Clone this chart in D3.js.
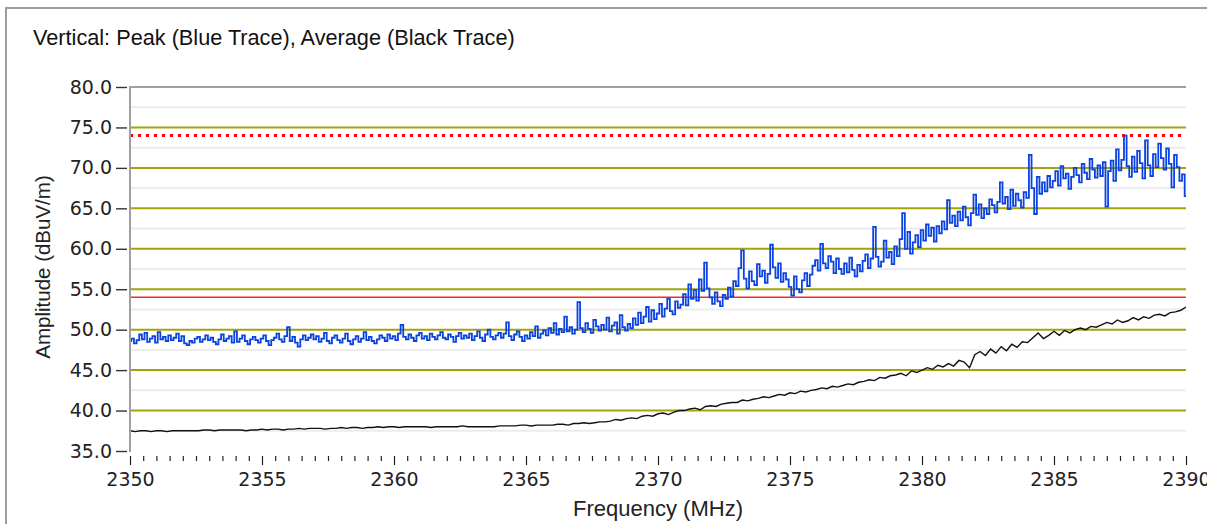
<!DOCTYPE html>
<html><head><meta charset="utf-8">
<script src="https://cdn.jsdelivr.net/npm/d3@7"></script>
<style>body{margin:0;background:#fff;} svg{display:block;}</style>
</head><body><svg id="c" width="1207" height="524"></svg>
<script>
// ---- data ----
const titleText = "Vertical: Peak (Blue Trace), Average (Black Trace)";
const xTitle = "Frequency (MHz)";
const yTitle = "Amplitude (dBuV/m)";
const xDomain = [2350, 2390];
const yDomain = [35, 80];
const xTicks = [2350, 2355, 2360, 2365, 2370, 2375, 2380, 2385, 2390];
const yTicks = [35, 40, 45, 50, 55, 60, 65, 70, 75, 80];
const peakLimit = 74;
const avgLimit = 54;
const peakStep = 0.1;   // MHz between peak samples
const avgStep = 0.2;    // MHz between average samples
const peakValues = [
48.6,48.9,48.3,48.7,49.4,48.8,49.6,48.5,48.9,49.2,
48.4,49.7,48.8,49.1,48.6,49.3,48.7,49.0,49.5,48.6,
49.2,48.3,48.1,48.6,48.4,48.9,49.1,48.5,48.8,49.3,
48.7,49.0,48.5,48.2,48.8,49.4,48.6,48.9,49.2,48.4,
49.8,48.5,48.9,49.3,48.6,48.2,48.8,49.1,48.7,48.4,
48.9,49.3,48.6,48.1,48.7,49.0,49.5,48.8,48.5,49.2,
50.3,48.6,49.1,48.4,47.9,48.8,49.3,48.7,49.0,49.4,
48.8,49.2,48.5,48.9,49.6,48.6,48.3,49.0,49.3,48.7,
48.4,48.9,49.5,48.6,48.2,48.8,49.2,48.5,48.9,49.7,
48.7,49.1,48.6,48.3,48.8,49.3,49.0,48.6,49.4,48.9,
49.2,48.7,49.5,50.6,49.1,48.8,49.4,49.0,48.6,49.3,
49.6,48.9,49.2,48.7,49.5,49.1,48.8,49.3,49.7,49.0,
48.8,49.4,49.1,48.5,49.2,49.6,48.9,49.3,49.0,49.5,
48.7,49.2,49.8,49.0,48.6,49.4,50.0,49.1,48.8,49.3,
49.6,49.0,49.5,50.9,49.2,48.7,49.4,49.8,49.1,48.6,
49.3,48.9,49.7,49.2,50.4,49.0,49.5,49.9,49.3,50.2,
49.6,50.8,49.4,50.1,49.7,51.6,49.8,50.3,49.5,50.0,
53.4,50.2,49.7,50.8,50.1,49.6,51.2,50.4,49.9,50.6,
50.0,51.5,49.8,50.5,50.9,49.5,51.8,50.3,49.9,50.7,
50.2,51.4,50.6,52.1,50.8,51.6,52.8,51.0,52.4,51.3,
52.0,53.2,51.6,52.6,53.8,52.3,51.9,53.5,52.7,53.1,
54.4,53.0,55.6,53.8,54.9,53.6,56.2,54.8,58.3,55.1,
54.0,53.2,54.6,53.5,52.9,54.3,53.8,55.2,54.1,56.0,
55.4,57.6,59.8,56.3,55.1,57.2,56.0,55.5,58.1,56.6,
57.3,55.8,56.9,60.5,57.7,56.4,58.2,55.9,57.0,56.2,
55.3,54.2,56.6,55.0,54.6,56.1,57.0,55.4,56.8,57.9,
58.6,57.3,60.6,58.2,57.6,59.1,58.4,57.0,58.8,57.5,
56.9,58.2,57.1,58.9,57.4,56.6,58.0,57.2,58.5,59.3,
57.6,58.8,62.7,59.0,57.8,58.4,61.0,58.9,59.6,58.1,
60.3,59.1,61.2,64.4,60.0,62.1,59.4,60.8,61.7,60.2,
62.3,61.0,63.0,61.6,62.6,60.9,62.8,61.9,63.4,62.4,
66.0,63.2,64.1,62.8,64.6,63.5,65.2,63.9,62.9,64.4,
66.7,64.2,65.5,63.8,65.0,64.3,66.1,65.4,64.5,65.8,
68.2,65.6,66.4,64.9,67.3,65.3,66.8,66.0,65.1,67.0,
66.3,71.6,67.5,64.3,68.9,66.8,68.2,67.1,69.0,67.6,
68.4,69.6,67.8,70.2,68.7,69.3,67.4,68.9,70.0,69.1,
68.2,70.5,69.4,68.6,71.1,69.8,68.8,70.3,69.0,70.7,
65.2,69.6,70.9,68.4,72.3,69.7,71.0,74.0,70.2,68.9,
71.4,69.5,72.1,70.6,68.7,73.4,70.3,69.0,71.7,70.1,
73.0,71.2,69.8,72.4,70.5,67.6,71.6,70.1,68.4,69.2,
66.5
];
const avgValues = [
37.5,37.4,37.5,37.5,37.4, 37.5,37.5,37.4,37.5,37.5,
37.5,37.5,37.5,37.5,37.6, 37.6,37.5,37.6,37.6,37.6,
37.6,37.6,37.5,37.6,37.6, 37.7,37.6,37.7,37.7,37.6,
37.7,37.7,37.8,37.7,37.8, 37.8,37.8,37.7,37.8,37.8,
37.9,37.8,37.9,37.9,37.8, 37.9,37.9,38.0,37.9,38.0,
38.0,37.9,38.0,38.0,38.0, 38.0,38.0,37.9,38.0,38.0,
38.0,38.0,38.0,38.1,38.0, 38.0,38.0,38.0,38.0,38.0,
38.1,38.1,38.1,38.1,38.2, 38.2,38.1,38.2,38.2,38.2,
38.2,38.3,38.3,38.2,38.4, 38.4,38.5,38.4,38.5,38.6,
38.6,38.7,38.9,38.8,39.0, 39.1,39.0,39.3,39.4,39.3,
39.6,39.7,39.5,39.8,40.0, 40.0,40.2,40.3,40.1,40.5,
40.6,40.5,40.8,40.9,41.0, 41.0,41.3,41.2,41.4,41.5,
41.7,41.6,41.8,42.0,41.9, 42.2,42.1,42.4,42.3,42.5,
42.6,42.8,42.7,43.0,42.9, 43.1,43.3,43.2,43.5,43.6,
43.8,43.7,44.1,44.0,44.3, 44.4,44.6,44.3,44.9,44.7,
45.0,45.3,45.1,45.6,45.4, 45.8,45.5,46.2,46.0,45.3,
46.9,47.3,46.8,47.6,47.1, 47.9,47.4,48.2,47.8,48.5,
48.4,49.0,49.6,48.9,49.3, 49.8,49.3,49.9,49.6,50.0,
50.2,50.0,50.4,50.3,50.6, 50.9,50.7,51.2,50.9,51.1,
51.5,51.2,51.6,51.4,51.8, 51.9,51.7,52.1,52.2,52.4,
52.8
];

// ---- layout ----
const svg = d3.select("#c");
const L = 130, R = 1186, T = 87, B = 451;
const x = d3.scaleLinear().domain(xDomain).range([L, R]);
const y = d3.scaleLinear().domain(yDomain).range([B, T]);

// outer frame
svg.append("path").attr("d", "M6,524 L6,8 L1207,8")
  .attr("fill", "none").attr("stroke", "#9c9c9c").attr("stroke-width", 2);

// title
svg.append("text").attr("x", 33).attr("y", 45)
  .attr("font-family", "Liberation Sans, Arial, sans-serif").attr("font-size", 21.7)
  .attr("fill", "#111").text(titleText);

// minor grid (half steps)
const minorGrid = d3.range(yTicks.length - 1).map(i => (yTicks[i] + yTicks[i + 1]) / 2);
svg.append("g").selectAll("line").data(minorGrid).join("line")
  .attr("x1", L).attr("x2", R).attr("y1", d => y(d)).attr("y2", d => y(d))
  .attr("stroke", "#ececec").attr("stroke-width", 2);

// major grid
svg.append("g").selectAll("line").data(yTicks.filter(d => d > yDomain[0] && d < yDomain[1])).join("line")
  .attr("x1", L).attr("x2", R).attr("y1", d => y(d)).attr("y2", d => y(d))
  .attr("stroke", "#a3a30a").attr("stroke-width", 2);

// top border
svg.append("line").attr("x1", L).attr("x2", R).attr("y1", y(yDomain[1])).attr("y2", y(yDomain[1]))
  .attr("stroke", "#a0a0a0").attr("stroke-width", 2);

// limit lines
svg.append("line").attr("x1", L).attr("x2", R).attr("y1", y(avgLimit)).attr("y2", y(avgLimit))
  .attr("stroke", "#f52a2a").attr("stroke-width", 1.6);
svg.append("line").attr("x1", L).attr("x2", R).attr("y1", y(peakLimit)).attr("y2", y(peakLimit))
  .attr("stroke", "#ff0000").attr("stroke-width", 3).attr("stroke-dasharray", "3,5");

// clip
svg.append("clipPath").attr("id", "clip").append("rect")
  .attr("x", L).attr("y", T).attr("width", R - L).attr("height", B - T);

// traces
const peakLine = d3.line().curve(d3.curveStep).x((d, i) => x(xDomain[0] + i * peakStep)).y(d => y(d));
const avgLine = d3.line().x((d, i) => x(xDomain[0] + i * avgStep)).y(d => y(d));
const g = svg.append("g").attr("clip-path", "url(#clip)");
g.append("path").datum(avgValues).attr("d", avgLine)
  .attr("fill", "none").attr("stroke", "#111").attr("stroke-width", 1.4);
g.append("path").datum(peakValues).attr("d", peakLine)
  .attr("fill", "none").attr("stroke", "#0b43e0").attr("stroke-width", 1.8);

// left axis line
svg.append("line").attr("x1", L).attr("x2", L).attr("y1", T - 1).attr("y2", B + 1)
  .attr("stroke", "#a0a0a0").attr("stroke-width", 2);

// y axis
const yAxis = svg.append("g").attr("transform", `translate(127,0)`)
  .call(d3.axisLeft(y).tickValues(yTicks).tickSize(11).tickPadding(4).tickFormat(d3.format(".1f")));
yAxis.select(".domain").remove();
yAxis.selectAll("line").attr("stroke", "#333").attr("stroke-width", 1.4);
yAxis.selectAll("text").attr("font-family", "DejaVu Sans, sans-serif").attr("font-size", 19).attr("fill", "#222");

// x axis
const minorX = d3.range(xDomain[0], xDomain[1] + 0.001, 0.5).filter(d => !xTicks.includes(d));
const xMinor = svg.append("g").attr("transform", `translate(0,456)`)
  .call(d3.axisBottom(x).tickValues(minorX).tickSize(5).tickFormat(""));
xMinor.select(".domain").remove();
xMinor.selectAll("line").attr("stroke", "#222").attr("stroke-width", 1.2);
const xAxis = svg.append("g").attr("transform", `translate(0,456)`)
  .call(d3.axisBottom(x).tickValues(xTicks).tickSize(9).tickPadding(8).tickFormat(d3.format("d")));
xAxis.select(".domain").remove();
xAxis.selectAll("line").attr("stroke", "#222").attr("stroke-width", 1.2);
xAxis.selectAll("text").attr("font-family", "DejaVu Sans, sans-serif").attr("font-size", 19).attr("fill", "#222");

// axis titles
svg.append("text").attr("x", 658).attr("y", 516).attr("text-anchor", "middle")
  .attr("font-family", "Liberation Sans, Arial, sans-serif").attr("font-size", 22).attr("fill", "#222").text(xTitle);
svg.append("text").attr("transform", `translate(50,267) rotate(-90)`).attr("text-anchor", "middle")
  .attr("font-family", "Liberation Sans, Arial, sans-serif").attr("font-size", 20.5).attr("fill", "#222").text(yTitle);
</script></body></html>
